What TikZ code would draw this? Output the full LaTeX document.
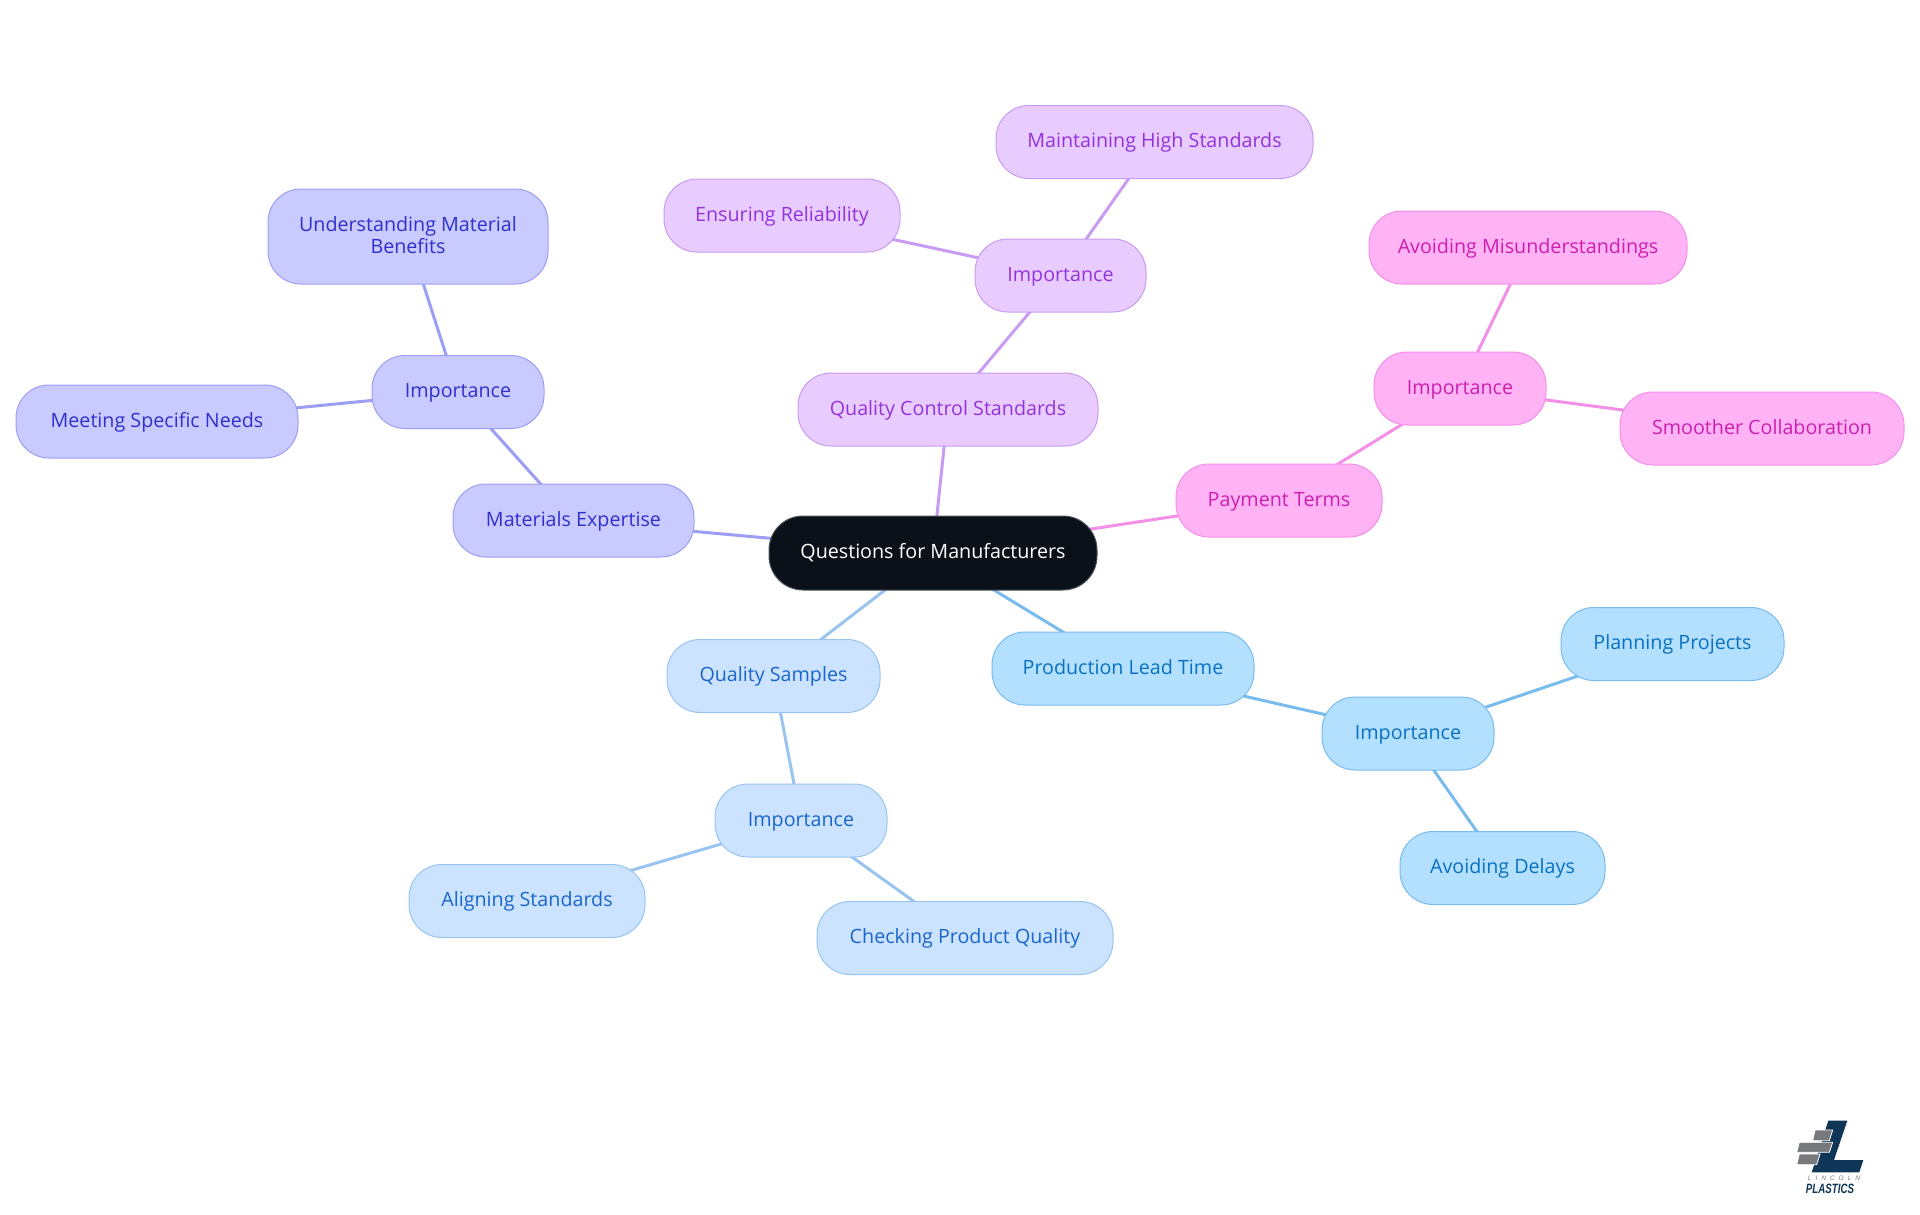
\documentclass[tikz,border=0pt]{standalone}
\usepackage{fontspec}
\setmainfont{Open Sans}
\newfontfamily\logofont{Liberation Sans}
\usetikzlibrary{backgrounds}
\definecolor{rootfill}{HTML}{0B1119}\definecolor{rootline}{HTML}{50545A}
\definecolor{indf}{HTML}{C9CAFF}\definecolor{indl}{HTML}{9C9EF5}\definecolor{indt}{HTML}{3030CC}
\definecolor{purf}{HTML}{E8CCFF}\definecolor{purl}{HTML}{C99BF2}\definecolor{purt}{HTML}{9333DB}
\definecolor{pnkf}{HTML}{FFB3F5}\definecolor{pnkl}{HTML}{F48FE8}\definecolor{pnkt}{HTML}{CC1FB0}
\definecolor{bluf}{HTML}{CCE3FF}\definecolor{blul}{HTML}{99C4F0}\definecolor{blut}{HTML}{1A66CC}
\definecolor{skyf}{HTML}{B3E0FF}\definecolor{skyl}{HTML}{7ABBEE}\definecolor{skyt}{HTML}{0A70C0}
\definecolor{logonavy}{HTML}{0F3557}\definecolor{logogray}{HTML}{77797C}
\tikzset{
  mm/.style={rounded corners=33pt,inner sep=0pt,align=center,line width=1pt,text height=17.8pt,text depth=6pt,font=\fontsize{19.7}{21.7}\selectfont},
  rootn/.style={mm,fill=rootfill,draw=rootline,text=white,rounded corners=34pt},
  ind/.style={mm,fill=indf,draw=indl,text=indt},
  pur/.style={mm,fill=purf,draw=purl,text=purt},
  pnk/.style={mm,fill=pnkf,draw=pnkl,text=pnkt},
  blu/.style={mm,fill=bluf,draw=blul,text=blut},
  sky/.style={mm,fill=skyf,draw=skyl,text=skyt},
  box/.style n args={2}{minimum width=#1pt,minimum height=#2pt},
  edge/.style={line width=3pt},
  brick/.style={fill=logogray,draw=white,line width=0.8pt},
}
\begin{document}
\begin{tikzpicture}[x=1pt,y=-1pt]
\useasboundingbox (0,0) rectangle (1920,1215);
\node[rootn,box={328}{74}] (root) at (933,553) {Questions for Manufacturers};
% purple
\node[pur,box={300}{73}] (qcs) at (948,409.5) {Quality Control Standards};
\node[pur,box={171}{73}] (qi) at (1060.5,275.5) {Importance};
\node[pur,box={236}{73}] (er) at (782,215.5) {Ensuring Reliability};
\node[pur,box={317}{73}] (mhs) at (1154.5,142) {Maintaining High Standards};
% pink
\node[pnk,box={206}{73}] (pt) at (1279,500.5) {Payment Terms};
\node[pnk,box={172}{73}] (pi) at (1460,388.5) {Importance};
\node[pnk,box={318}{73}] (am) at (1528,247.5) {Avoiding Misunderstandings};
\node[pnk,box={284}{73}] (sc) at (1762,428.5) {Smoother Collaboration};
% indigo
\node[ind,box={241}{73}] (me) at (573.5,520.5) {Materials Expertise};
\node[ind,box={172}{73}] (ii) at (458,392) {Importance};
\node[ind,box={280}{95},text height=38pt,text depth=5pt] (umb) at (408,236.5) {Understanding Material\\Benefits};
\node[ind,box={282}{73}] (msn) at (157,421.5) {Meeting Specific Needs};
% blue
\node[blu,box={213}{73}] (qs) at (773.5,676) {Quality Samples};
\node[blu,box={172}{73}] (bi) at (801,820.5) {Importance};
\node[blu,box={236}{73}] (as) at (527,901) {Aligning Standards};
\node[blu,box={296}{73}] (cpq) at (965,938) {Checking Product Quality};
% sky
\node[sky,box={262}{73}] (plt) at (1123,668.5) {Production Lead Time};
\node[sky,box={172}{73}] (si) at (1408,733.5) {Importance};
\node[sky,box={223}{73}] (pp) at (1672.5,644) {Planning Projects};
\node[sky,box={205}{73}] (ad) at (1502.5,868) {Avoiding Delays};
\begin{pgfonlayer}{background}
\draw[edge,purl] (root.center) -- (qcs.center);
\draw[edge,purl] (qcs.center) -- (qi.center);
\draw[edge,purl] (qi.center) -- (er.center);
\draw[edge,purl] (qi.center) -- (mhs.center);
\draw[edge,pnkl] (root.center) -- (pt.center);
\draw[edge,pnkl] (pt.center) -- (pi.center);
\draw[edge,pnkl] (pi.center) -- (am.center);
\draw[edge,pnkl] (pi.center) -- (sc.center);
\draw[edge,indl] (root.center) -- (me.center);
\draw[edge,indl] (me.center) -- (ii.center);
\draw[edge,indl] (ii.center) -- (umb.center);
\draw[edge,indl] (ii.center) -- (msn.center);
\draw[edge,blul] (root.center) -- (qs.center);
\draw[edge,blul] (qs.center) -- (bi.center);
\draw[edge,blul] (bi.center) -- (as.center);
\draw[edge,blul] (bi.center) -- (cpq.center);
\draw[edge,skyl] (root.center) -- (plt.center);
\draw[edge,skyl] (plt.center) -- (si.center);
\draw[edge,skyl] (si.center) -- (pp.center);
\draw[edge,skyl] (si.center) -- (ad.center);
\end{pgfonlayer}
% logo
\fill[logonavy] (1828.3,1120.7) -- (1847.3,1120.7) -- (1834,1160) -- (1863.3,1160) -- (1859.3,1172.3) -- (1811.7,1172.3) -- cycle;
\filldraw[brick] (1815,1130) -- (1832.7,1130) -- (1829.3,1140.7) -- (1812.7,1140.7) -- cycle;
\filldraw[brick] (1799.3,1142.3) -- (1832.7,1142.3) -- (1829.3,1152.3) -- (1796.7,1152.3) -- cycle;
\filldraw[brick] (1799.3,1154) -- (1820,1154) -- (1816.7,1164.7) -- (1796.7,1164.7) -- cycle;
\node[inner sep=0pt,text=logogray,font=\logofont\itshape\fontsize{6.5}{7}\selectfont] (ln) at (1834,1178.5) {L\hspace{4pt}I\hspace{4pt}N\hspace{4pt}C\hspace{4pt}O\hspace{4pt}L\hspace{4pt}N};
\node[inner sep=0pt,text=logonavy,xscale=0.72,font=\logofont\bfseries\itshape\fontsize{13.5}{14}\selectfont] (lp) at (1830,1188.5) {PLASTICS};
\end{tikzpicture}
\end{document}
